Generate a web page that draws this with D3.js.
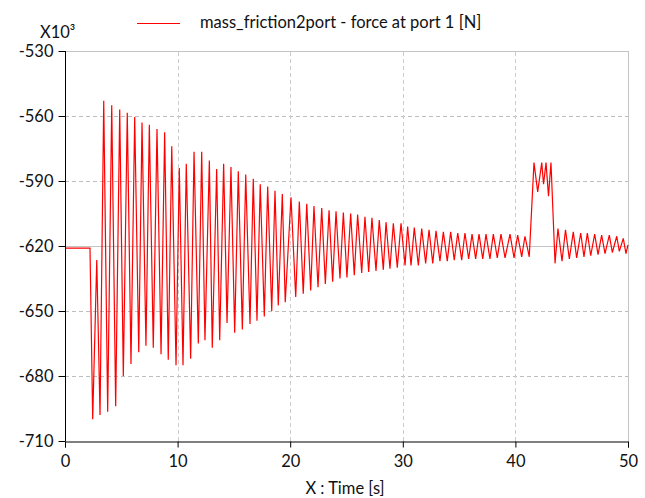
<!DOCTYPE html>
<meta charset="utf-8">
<script src="https://d3js.org/d3.v7.min.js"></script>
<style>
  body { margin: 0; background: #fff; }
  text { font-family: Lato, "Open Sans", sans-serif; }
</style>
<div id="chart"></div>
<script>

// tick values
var xTicks = [0, 10, 20, 30, 40, 50];
var yTicks = [-530, -560, -590, -620, -650, -680, -710];
var seriesName = "mass_friction2port - force at port 1 [N]";

// sample points: time [s] and force [x10^3 N]
var time = [0, 2.22, 2.46, 2.82, 3.11, 3.44, 3.79, 4.15, 4.50, 4.86,
  5.18, 5.53, 5.86, 6.19, 6.55, 6.84, 7.19, 7.49, 7.84, 8.17,
  8.53, 8.85, 9.17, 9.48, 9.86, 10.15, 10.48, 10.77, 11.16, 11.46,
  11.84, 12.14, 12.43, 12.82, 13.08, 13.47, 13.74, 14.09, 14.39, 14.74,
  15.07, 15.39, 15.75, 16.05, 16.43, 16.72, 17.05, 17.34, 17.70, 18.00,
  18.36, 18.65, 18.94, 19.30, 19.56, 20.07, 20.49, 20.81, 21.16, 21.47,
  21.82, 22.11, 22.47, 22.80, 23.12, 23.45, 23.77, 24.07, 24.42, 24.72,
  25.04, 25.37, 25.69, 25.99, 26.35, 26.64, 26.97, 27.26, 27.62, 27.91,
  28.27, 28.51, 28.86, 29.16, 29.51, 29.84, 30.20, 30.43, 30.73, 31.02,
  31.38, 31.68, 32.03, 32.33, 32.66, 32.95, 33.30, 33.60, 33.95, 34.25,
  34.57, 34.88, 35.23, 35.52, 35.85, 36.15, 36.47, 36.77, 37.10, 37.39,
  37.74, 38.04, 38.39, 38.72, 39.08, 39.52, 39.88, 40.20, 40.56, 40.85,
  41.23, 41.65, 41.98, 42.34, 42.50, 42.72, 42.94, 43.16, 43.52, 43.78,
  44.14, 44.45, 44.79, 45.14, 45.44, 45.80, 46.09, 46.39, 46.69, 47.04,
  47.34, 47.66, 47.96, 48.34, 48.61, 49.00, 49.23, 49.58, 49.82, 50];

var force = [-621, -621, -700, -626.5, -698, -553, -696.5, -555, -694, -557,
  -680, -558.5, -674.5, -560.5, -669, -563, -666, -564, -667, -566,
  -670, -567.5, -672.5, -574, -675, -584, -675, -582, -672, -576.5,
  -665, -576.5, -663.5, -580.5, -667, -584.5, -663.5, -582, -655.5, -583.5,
  -660, -585.5, -658.5, -587, -656, -589, -654.5, -591.5, -652.5, -592.5,
  -650, -594.5, -647.5, -596, -646, -597.5, -643.5, -599.5, -642, -600.5,
  -640.5, -601.5, -639, -602.5, -637.5, -603.5, -636.5, -604, -635, -604.5,
  -634.5, -605, -633.5, -605.5, -632.5, -606.5, -632, -607, -631.5, -608,
  -631, -609, -630.5, -609.5, -630, -609.5, -629, -611, -629, -611.5,
  -629, -612, -628, -612.5, -628, -613, -627, -613.5, -627, -613.5,
  -626.5, -614, -626.5, -614, -626, -614.5, -626, -614.5, -626, -614.5,
  -626, -614.5, -625.5, -614.5, -625.5, -614.5, -625.5, -615, -625, -615.5,
  -625, -581.5, -595, -581.5, -591.5, -581.5, -597, -581.5, -628, -612,
  -627, -612.5, -626, -613.5, -625.5, -614, -625, -614, -624.5, -614.5,
  -624, -615, -623.5, -615, -623, -615.5, -622.5, -616.5, -623.5, -619.5];

var W = 645, H = 498;
var margin = {top: 51, right: 17, bottom: 57, left: 65};

var svg = d3.select("#chart")
  .append("svg")
    .attr("width", W)
    .attr("height", H);

var x = d3.scaleLinear()
  .domain([0, 50])
  .range([margin.left, W - margin.right]);

var y = d3.scaleLinear()
  .domain([-710, -530])
  .range([H - margin.bottom, margin.top]);

// grid
var grid = svg.append("g");
grid.selectAll(".hg")
  .data(yTicks.filter(function(d) { return d != -710; }))
  .enter().append("line")
    .attr("x1", x(0)).attr("x2", x(50))
    .attr("y1", function(d) { return Math.round(y(d)) + 0.5; })
    .attr("y2", function(d) { return Math.round(y(d)) + 0.5; })
    .attr("stroke", function(d) { return (d == -530 || d == -620) ? "#c4c4c4" : "#bdbdbd"; })
    .attr("stroke-dasharray", function(d) { return (d == -530 || d == -620) ? null : "4,3"; });
grid.selectAll(".vg")
  .data(xTicks.filter(function(d) { return d != 0; }))
  .enter().append("line")
    .attr("y1", y(-710)).attr("y2", y(-530))
    .attr("x1", function(d) { return Math.round(x(d)) + 0.5; })
    .attr("x2", function(d) { return Math.round(x(d)) + 0.5; })
    .attr("stroke", function(d) { return d == 50 ? "#c4c4c4" : "#cccccc"; })
    .attr("stroke-dasharray", function(d) { return d == 50 ? null : "4,3"; });

// the signal
var line = d3.line()
  .x(function(d, i) { return x(time[i]); })
  .y(function(d) { return y(d); });

svg.append("path")
  .datum(force)
  .attr("fill", "none")
  .attr("stroke", "#ff0000")
  .attr("stroke-width", 1.2)
  .attr("d", line);

// plain hyphen minus like the original
var fmt = function(d) { return String(d); };

// axes
var xAxis = svg.append("g")
  .attr("transform", "translate(0," + (Math.round(y(-710)) + 0.5) + ")");
xAxis.call(d3.axisBottom(x).tickValues(d3.range(0, 51, 2)).tickSize(5).tickFormat(""))
xAxis.call(d3.axisBottom(x).tickValues(xTicks).tickSize(6).tickPadding(8).tickFormat(fmt));
xAxis.selectAll("text").attr("font-size", 16.5).attr("fill", "#111");
xAxis.selectAll("path, line").attr("stroke", "#000");

var yAxis = svg.append("g")
  .attr("transform", "translate(" + (Math.round(x(0)) + 0.5) + ",0)");
yAxis.call(d3.axisLeft(y).tickValues(d3.range(-710, -529, 15)).tickSize(4).tickFormat(""));
yAxis.call(d3.axisLeft(y).tickValues(yTicks).tickSize(7).tickPadding(5).tickFormat(fmt));
yAxis.selectAll("text").attr("font-size", 16.5).attr("fill", "#111");
yAxis.selectAll("path, line").attr("stroke", "#000");
yAxis.select(".domain").attr("d", "M0," + y(-710) + "V" + y(-530));

// scale label
svg.append("text")
  .attr("x", 40)
  .attr("y", 38)
  .attr("font-size", 16.5)
  .attr("fill", "#111")
  .text("X10³");

// x axis title
svg.append("text")
  .attr("x", 345)
  .attr("y", 494)
  .attr("text-anchor", "middle")
  .attr("font-size", 16.5)
  .attr("fill", "#111")
  .text("X : Time [s]");

// legend
svg.append("line")
  .attr("x1", 137).attr("x2", 180)
  .attr("y1", 23.5).attr("y2", 23.5)
  .attr("stroke", "#ff0000");
svg.append("text")
  .attr("x", 200)
  .attr("y", 28)
  .attr("font-size", 16.5)
  .attr("fill", "#111")
  .text(seriesName);

</script>
